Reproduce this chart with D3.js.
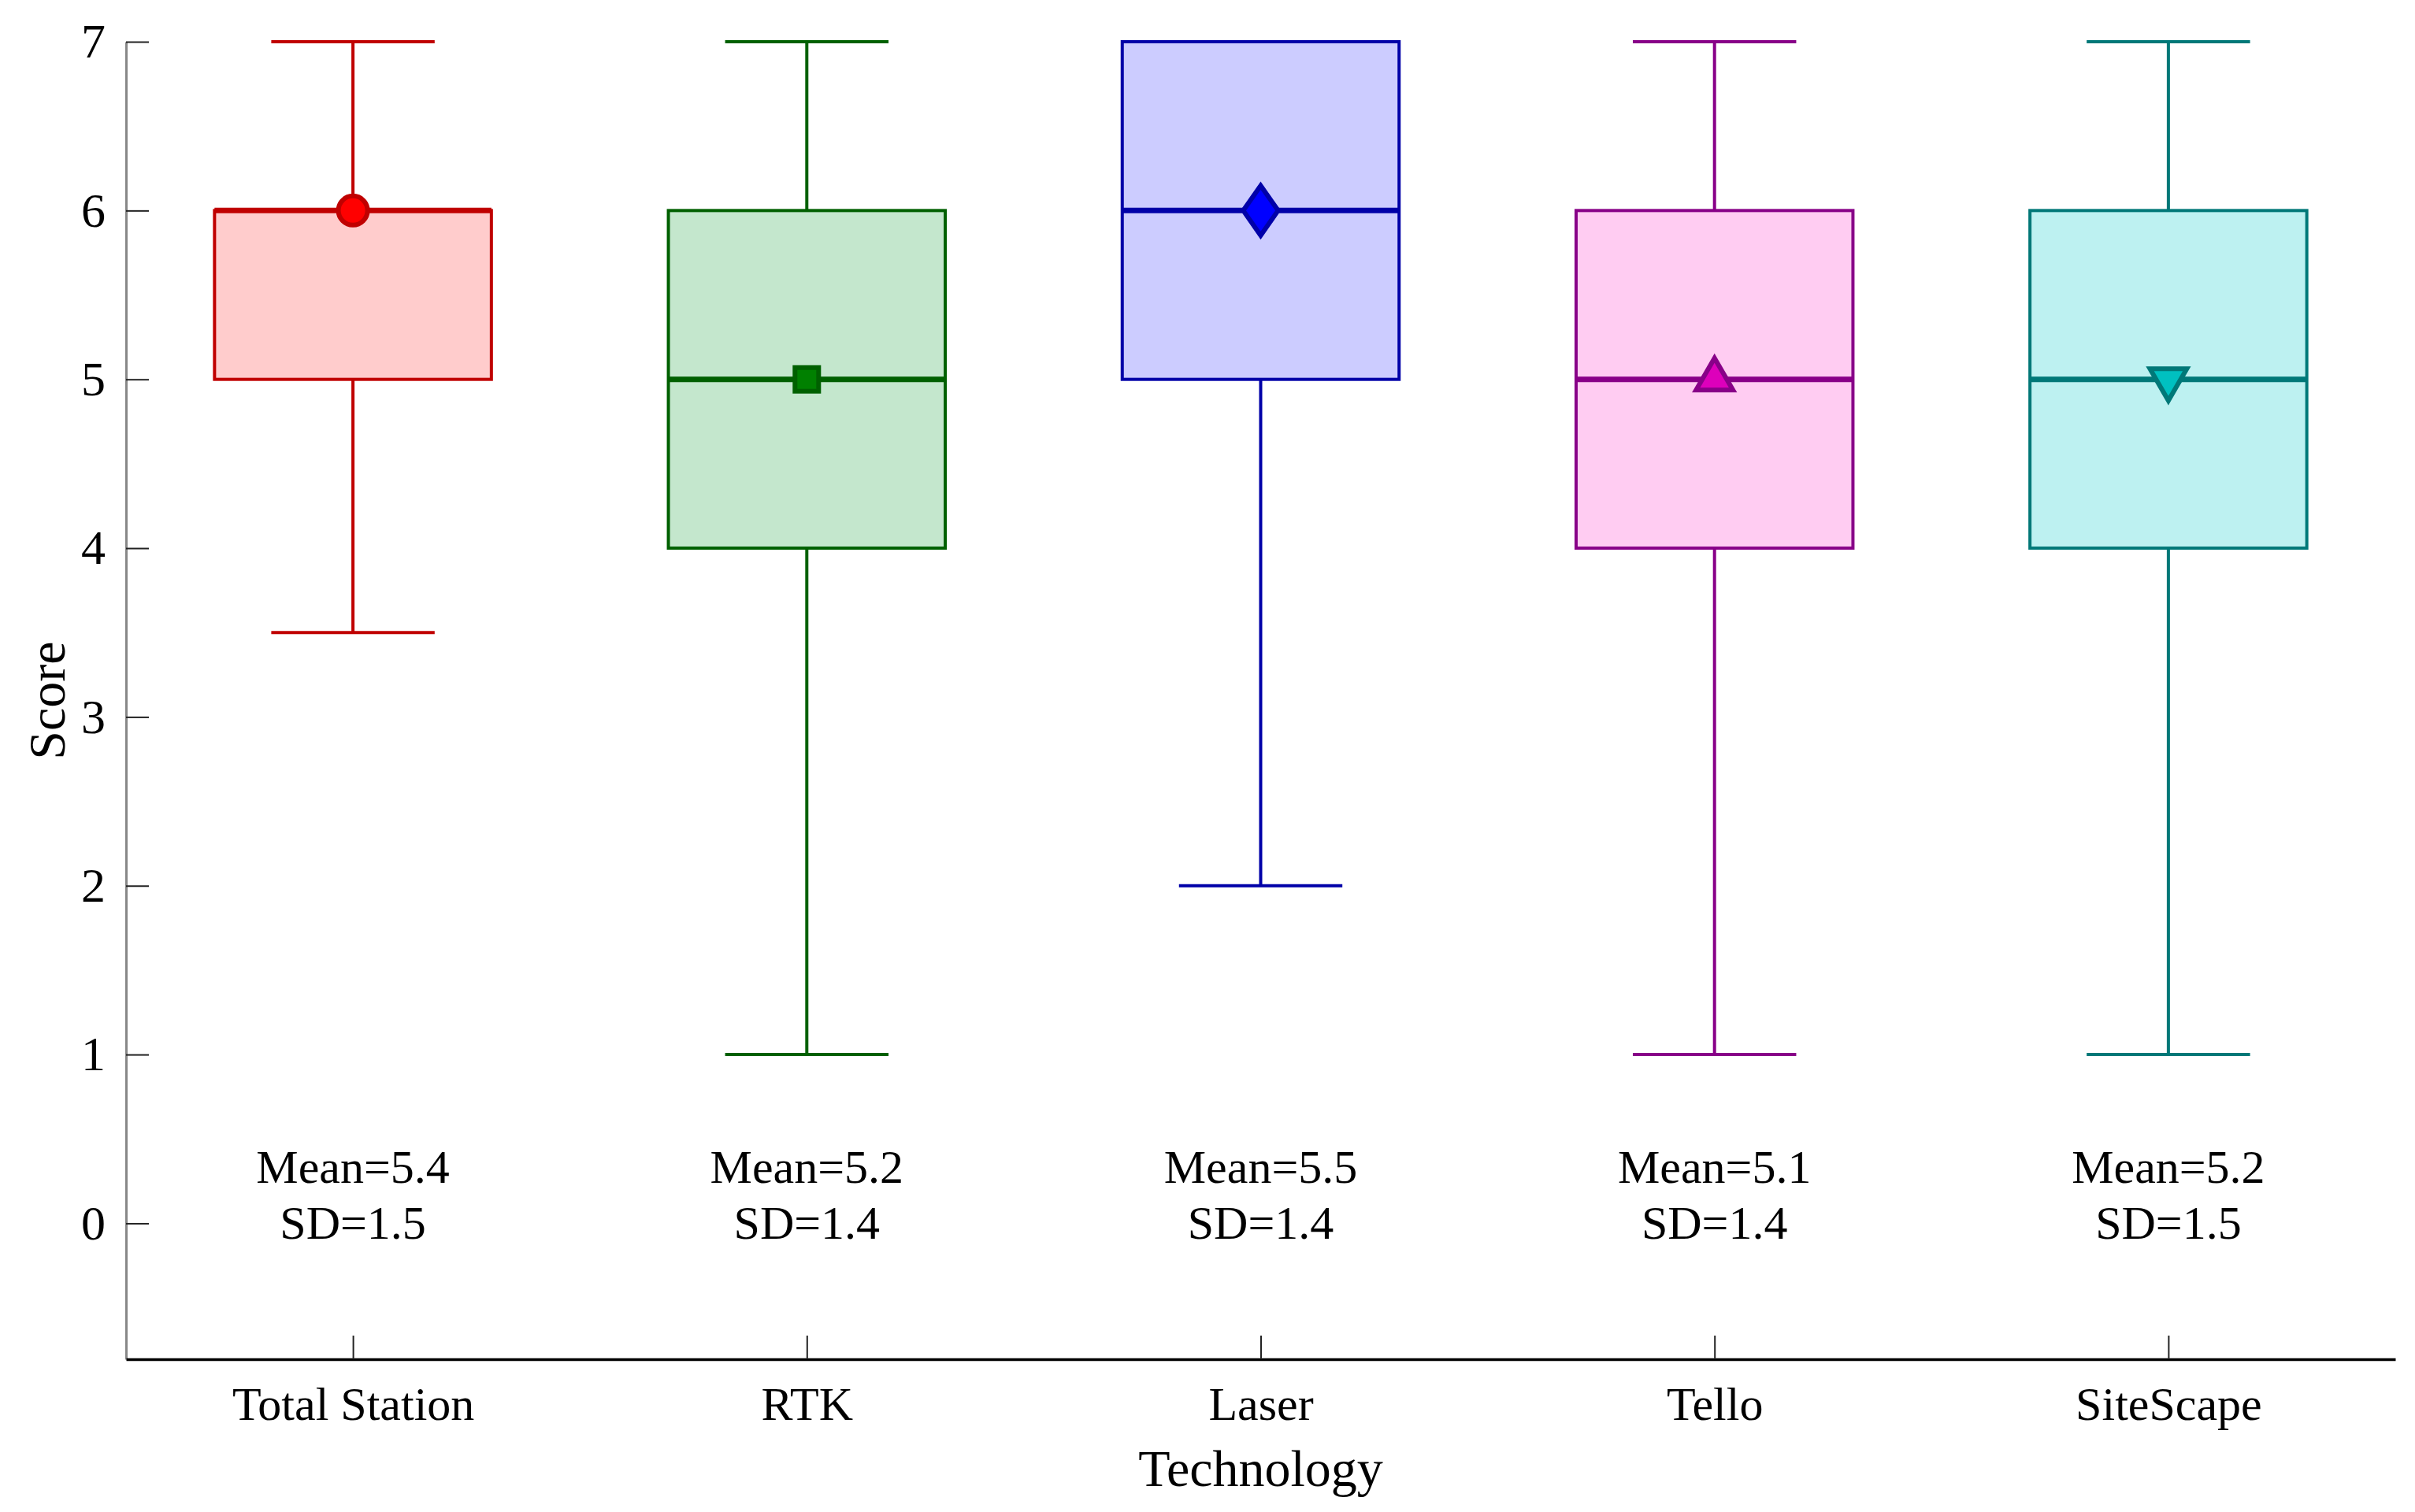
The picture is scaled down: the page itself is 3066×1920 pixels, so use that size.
<!DOCTYPE html>
<html>
<head>
<meta charset="utf-8">
<script src="https://cdn.jsdelivr.net/npm/d3@7"></script>
<style>
  body { margin: 0; background: #fff; }
  svg { display: block; }
  text { font-family: "Liberation Serif", "Times New Roman", serif; fill: #000; }
</style>
</head>
<body>
<svg></svg>
<script>
(function (d3) {
    // ==================================================
    // data

    const categories = ["Total Station", "RTK", "Laser", "Tello", "SiteScape"];
    const mins    = [3.5, 1, 2, 1, 1];
    const q1s     = [5, 4, 5, 4, 4];
    const medians = [6, 5, 6, 5, 5];
    const q3s     = [6, 6, 7, 6, 6];
    const maxs    = [7, 7, 7, 7, 7];
    const means   = [5.4, 5.2, 5.5, 5.1, 5.2];
    const sds     = [1.5, 1.4, 1.4, 1.4, 1.5];
    const yTicks  = [0, 1, 2, 3, 4, 5, 6, 7];

    const strokes = ["#c00000", "#006000", "#0000a8", "#880088", "#007878"];
    const fills   = ["#ffcccc", "#c4e7cd", "#ccccff", "#ffccf2", "#bdf1f1"];
    const marks   = ["#ff0000", "#008000", "#0000ff", "#dd00bb", "#00c0c0"];

    const width = 3066;
    const height = 1920;

    const svg = d3.select("svg").attr("width", width).attr("height", height);

    const x = d3.scaleLinear().domain([0.5, 5.5]).range([160, 3041]);
    const y = d3.scaleLinear().domain([-0.805, 7]).range([1726, 53]);
    const unit = x(1) - x(0);
    const boxW = 0.61 * unit;
    const capW = 0.36 * unit;

    // diamond a bit wider than d3's own
    const tallDiamond = {
        draw(context, size) {
            const h = Math.sqrt(size / 1.4);
            const w = h * 0.7;
            context.moveTo(0, -h);
            context.lineTo(w, 0);
            context.lineTo(0, h);
            context.lineTo(-w, 0);
            context.closePath();
        }
    };
    const symbols = [
        d3.symbol(d3.symbolCircle, 1075),
        d3.symbol(d3.symbolSquare, 900),
        d3.symbol(tallDiamond, 1400),
        d3.symbol(d3.symbolTriangle, 950),
        d3.symbol(d3.symbolTriangle, 950)
    ];
    const rotations = [0, 0, 0, 0, 180];

    const rows = categories.map((c, i) => ({
        name: c, i: i, pos: i + 1,
        min: mins[i], q1: q1s[i], med: medians[i], q3: q3s[i], max: maxs[i],
        mean: means[i], sd: sds[i]
    }));

    // ==================================================
    // axes

    const yAxis = d3.axisLeft(y)
          .tickValues(yTicks)
          .tickSize(-29)
          .tickSizeOuter(0)
          .tickPadding(26)
          .tickFormat(d3.format("d"));

    const gy = svg.append("g").attr("transform", `translate(${x(0.5)},0)`).call(yAxis);
    gy.select(".domain").attr("stroke", "#888").attr("stroke-width", 3);
    gy.selectAll(".tick line").attr("stroke", "#222").attr("stroke-width", 2);
    gy.selectAll(".tick text").style("font-size", "62px").attr("fill", "#000");

    const xAxis = d3.axisBottom(x)
          .tickValues(rows.map(d => d.pos))
          .tickSize(-30)
          .tickSizeOuter(0)
          .tickFormat((d, i) => categories[i]);

    const gx = svg.append("g").attr("transform", `translate(0,${y(-0.805)})`).call(xAxis);
    gx.select(".domain").attr("stroke", "#000").attr("stroke-width", 3.5);
    gx.selectAll(".tick line").attr("stroke", "#222").attr("stroke-width", 2);
    gx.selectAll(".tick text")
        .attr("y", 77).attr("dy", 0)
        .style("font-size", "60px").attr("fill", "#000");

    svg.append("text")
        .attr("x", (x(0.5) + x(5.5)) / 2)
        .attr("y", 1887)
        .attr("text-anchor", "middle")
        .style("font-size", "66px")
        .text("Technology");

    svg.append("text")
        .attr("transform", `translate(82,${(y(7) + y(-0.805)) / 2}) rotate(-90)`)
        .attr("text-anchor", "middle")
        .style("font-size", "66px")
        .text("Score");

    // ==================================================
    // boxes

    const g = svg.selectAll("g.box").data(rows).enter()
          .append("g").attr("class", "box");

    // whiskers
    g.append("line")
        .attr("x1", d => x(d.pos)).attr("x2", d => x(d.pos))
        .attr("y1", d => y(d.q3)).attr("y2", d => y(d.max))
        .attr("stroke", d => strokes[d.i]).attr("stroke-width", 4);
    g.append("line")
        .attr("x1", d => x(d.pos)).attr("x2", d => x(d.pos))
        .attr("y1", d => y(d.q1)).attr("y2", d => y(d.min))
        .attr("stroke", d => strokes[d.i]).attr("stroke-width", 4);

    // caps
    [d => d.max, d => d.min].forEach(v => {
        g.append("line")
            .attr("x1", d => x(d.pos) - capW / 2).attr("x2", d => x(d.pos) + capW / 2)
            .attr("y1", d => y(v(d))).attr("y2", d => y(v(d)))
            .attr("stroke", d => strokes[d.i]).attr("stroke-width", 4);
    });

    g.append("rect")
        .attr("x", d => x(d.pos) - boxW / 2)
        .attr("y", d => y(d.q3))
        .attr("width", boxW)
        .attr("height", d => y(d.q1) - y(d.q3))
        .attr("fill", d => fills[d.i])
        .attr("stroke", d => strokes[d.i])
        .attr("stroke-width", 4);

    g.append("line")
        .attr("x1", d => x(d.pos) - boxW / 2).attr("x2", d => x(d.pos) + boxW / 2)
        .attr("y1", d => y(d.med)).attr("y2", d => y(d.med))
        .attr("stroke", d => strokes[d.i]).attr("stroke-width", 7);

    g.append("path")
        .attr("d", d => symbols[d.i]())
        .attr("transform", d => `translate(${x(d.pos)},${y(d.med)}) rotate(${rotations[d.i]})`)
        .attr("fill", d => marks[d.i])
        .attr("stroke", d => strokes[d.i])
        .attr("stroke-width", 6)
        .attr("stroke-linejoin", "miter");

    // mean / sd notes
    const note = g.append("text")
        .attr("text-anchor", "middle")
        .style("font-size", "60px");
    note.append("tspan")
        .attr("x", d => x(d.pos)).attr("y", y(0) - 51)
        .text(d => "Mean=" + d.mean.toFixed(1));
    note.append("tspan")
        .attr("x", d => x(d.pos)).attr("y", y(0) + 20)
        .text(d => "SD=" + d.sd.toFixed(1));
})(d3);
</script>
</body>
</html>
